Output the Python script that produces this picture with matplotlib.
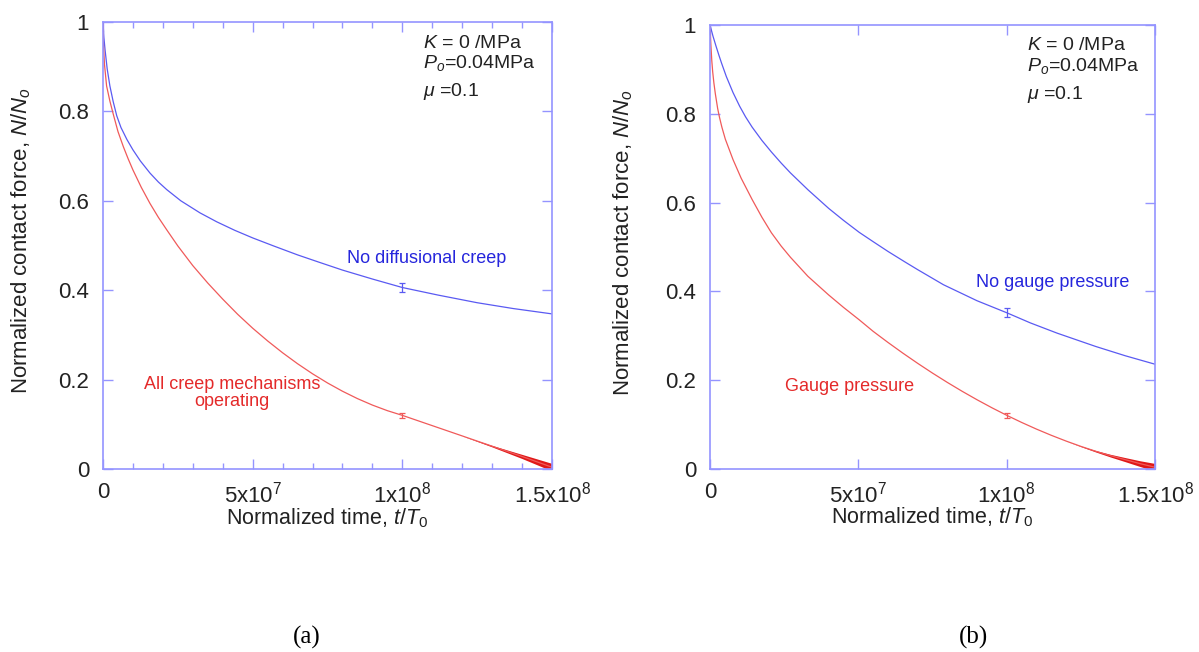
import matplotlib
matplotlib.use("Agg")
import matplotlib.pyplot as plt
from matplotlib.ticker import FixedLocator, MultipleLocator

plt.rcParams["font.family"] = ["Liberation Sans", "DejaVu Sans"]
plt.rcParams["mathtext.fontset"] = "custom"
plt.rcParams["mathtext.rm"] = "Liberation Sans"
plt.rcParams["mathtext.it"] = "Liberation Sans:italic"
plt.rcParams["mathtext.default"] = "regular"

# ---- data: normalized time (x1e6) and normalized contact force ----
t_a_blue = [0, 0.3, 0.7, 1.4, 2.3, 3.4, 4.6, 6, 8, 10, 12.5, 15.7, 18.5, 21.3, 26, 32.4,
            38, 44, 50, 57, 65, 72, 80, 90, 100, 112, 125, 137, 150]
n_a_blue = [1.0, 0.965, 0.937, 0.895, 0.857, 0.822, 0.790, 0.764, 0.737, 0.714, 0.689,
            0.662, 0.642, 0.625, 0.600, 0.573, 0.553, 0.534, 0.517, 0.499, 0.479,
            0.463, 0.445, 0.425, 0.406, 0.389, 0.372, 0.359, 0.347]
t_a_red = [0, 0.15, 0.5, 1.2, 2.3, 3.5, 5, 6.8, 8.4, 10, 12.8, 15.7, 18.5, 21.3, 25, 30,
           35, 40, 45, 50, 55, 60, 65, 70, 75, 80, 85, 90, 95, 100, 110, 120, 130,
           140, 150]
n_a_red = [1.0, 0.95, 0.905, 0.857, 0.823, 0.792, 0.755, 0.721, 0.694, 0.669, 0.630,
           0.594, 0.563, 0.535, 0.499, 0.455, 0.416, 0.380, 0.346, 0.315, 0.2865,
           0.260, 0.2355, 0.213, 0.1925, 0.174, 0.1575, 0.143, 0.1305, 0.120, 0.097,
           0.074, 0.051, 0.028, 0.004]

t_b_blue = [0, 1, 2, 3, 3.9, 5.5, 7.75, 10, 12, 14.2, 17.5, 20.7, 24, 27.1, 33, 40,
            45, 50.3, 55, 60, 65.8, 70, 78.7, 90, 100, 108, 117, 130, 140, 150]
n_b_blue = [1.0, 0.975, 0.953, 0.932, 0.914, 0.884, 0.848, 0.817, 0.793, 0.770, 0.740,
            0.714, 0.689, 0.667, 0.629, 0.587, 0.560, 0.533, 0.512, 0.490, 0.466,
            0.449, 0.415, 0.379, 0.352, 0.329, 0.306, 0.276, 0.255, 0.236]
t_b_red = [0, 0.3, 0.6, 0.9, 1.3, 1.8, 2.58, 3.2, 4, 5.16, 7.75, 10.5, 14.2, 17.5, 20.7,
           24, 27.1, 33, 40, 45, 50.3, 55, 60, 65, 70, 75, 80, 85, 90, 95, 100, 105,
           110, 115, 120, 125, 130, 135, 140, 145, 150]
n_b_red = [1.0, 0.955, 0.92, 0.895, 0.87, 0.845, 0.812, 0.792, 0.77, 0.743, 0.697,
           0.655, 0.607, 0.567, 0.532, 0.502, 0.477, 0.434, 0.392, 0.364, 0.336,
           0.310, 0.285, 0.261, 0.238, 0.216, 0.195, 0.175, 0.156, 0.138, 0.121,
           0.105, 0.090, 0.076, 0.063, 0.051, 0.040, 0.030, 0.021, 0.012, 0.004]

# error bars at t = 1e8
err_t = 100
err_a = {"blue": (0.406, 0.010), "red": (0.12, 0.006)}
err_b = {"blue": (0.352, 0.010), "red": (0.121, 0.006)}

x_ticks = [0, 50e6, 100e6, 150e6]
x_ticklabels = ["0", "5x10$^{7}$", "1x10$^{8}$", "1.5x10$^{8}$"]
y_ticks = [0, 0.2, 0.4, 0.6, 0.8, 1.0]
y_ticklabels = ["0", "0.2", "0.4", "0.6", "0.8", "1"]

params_text = ["$\\it{K}$ = 0 /MPa", "$\\it{P}_{\\it{o}}$=0.04MPa", "$\\it{\\mu}$ =0.1"]

BLUE_LINE = "#5a5af2"
RED_LINE = "#f05a5a"
BLUE_TEXT = "#2626dc"
RED_TEXT = "#e42a2a"
SPINE = "#9494ff"

fig = plt.figure(figsize=(11.99, 6.52), dpi=100)
W, H = 1199, 652


def make_axes(x0, x1, y0, y1):
    return fig.add_axes([x0 / W, 1 - y1 / H, (x1 - x0) / W, (y1 - y0) / H])


def style_axes(ax, minor):
    ax.set_xlim(0, 150e6)
    ax.set_ylim(0, 1)
    for s in ax.spines.values():
        s.set_color(SPINE)
        s.set_linewidth(1.2)
    ax.xaxis.set_major_locator(FixedLocator(x_ticks))
    ax.set_xticklabels(x_ticklabels)
    ax.yaxis.set_major_locator(FixedLocator(y_ticks))
    ax.set_yticklabels(y_ticklabels)
    if minor:
        ax.xaxis.set_minor_locator(MultipleLocator(10e6))
    ax.tick_params(axis="both", which="both", direction="in", top=True, right=True,
                   color=SPINE, width=1.0, labelcolor="#222222", labelsize=16)
    ax.tick_params(axis="both", which="major", length=7)
    ax.tick_params(axis="x", which="minor", length=4)
    ax.tick_params(axis="x", which="major", pad=9)
    ax.tick_params(axis="y", which="major", pad=10)
    ax.set_xlabel("Normalized time, $\\it{t}$/$\\it{T}_{\\it{0}}$", fontsize=15.5,
                  color="#222222")
    ax.set_ylabel("Normalized contact force, $\\it{N}$/$\\it{N}_{\\it{o}}$", fontsize=16,
                  color="#222222")


def draw_panel(ax, tb, nb, tr, nr, errs, wedge_from):
    sc = 1e6
    ax.plot([v * sc for v in tb], nb, color=BLUE_LINE, lw=0.9)
    ax.plot([v * sc for v in tr], nr, color=RED_LINE, lw=0.9)
    for key, col in (("blue", BLUE_LINE), ("red", RED_LINE)):
        yv, ye = errs[key]
        ax.errorbar([err_t * sc], [yv], yerr=[ye], fmt="none", ecolor=col,
                    elinewidth=0.9, capsize=2.5, capthick=0.9)
    # thickening tail of the red curve
    seg_t = [v * sc for v in tr if v >= wedge_from]
    seg_n = [n for v, n in zip(tr, nr) if v >= wedge_from]
    span = seg_t[-1] - seg_t[0]
    half = [0.0085 * ((x - seg_t[0]) / span) ** 1.5 for x in seg_t]
    ax.fill_between(seg_t, [n - h for n, h in zip(seg_n, half)],
                    [n + h for n, h in zip(seg_n, half)], color="#e01818", lw=0)


def params(ax, t0, ys):
    for txt, y in zip(params_text, ys):
        ax.text(t0, y, txt, fontsize=14, color="#222222", ha="left", va="center")


# panel (a)
ax1 = make_axes(103, 552, 22, 469)
style_axes(ax1, minor=True)
draw_panel(ax1, t_a_blue, n_a_blue, t_a_red, n_a_red, err_a, 120)
params(ax1, 107e6, [0.953, 0.908, 0.845])
ax1.text(108e6, 0.472, "No diffusional creep", color=BLUE_TEXT, fontsize=13,
         ha="center", va="center")
ax1.text(43e6, 0.17, "All creep mechanisms\noperating", color=RED_TEXT, fontsize=13,
         ha="center", va="center", linespacing=1.0)
ax1.xaxis.set_label_coords(0.5, -0.083)
ax1.yaxis.set_label_coords(-0.156, 0.51)

# panel (b)
ax2 = make_axes(710, 1155, 25, 469)
style_axes(ax2, minor=False)
draw_panel(ax2, t_b_blue, n_b_blue, t_b_red, n_b_red, err_b, 120)
params(ax2, 107e6, [0.953, 0.908, 0.843])
ax2.text(115.5e6, 0.421, "No gauge pressure", color=BLUE_TEXT, fontsize=13,
         ha="center", va="center")
ax2.text(47e6, 0.185, "Gauge pressure", color=RED_TEXT, fontsize=13,
         ha="center", va="center")
ax2.xaxis.set_label_coords(0.5, -0.083)
ax2.yaxis.set_label_coords(-0.169, 0.51)

fig.text(307 / W, 1 - 637 / H, "(a)", fontsize=18, family="Liberation Serif",
         ha="center", va="center")
fig.text(973 / W, 1 - 637 / H, "(b)", fontsize=18, family="Liberation Serif",
         ha="center", va="center")

fig.savefig("out.png", dpi=100, facecolor="white")
